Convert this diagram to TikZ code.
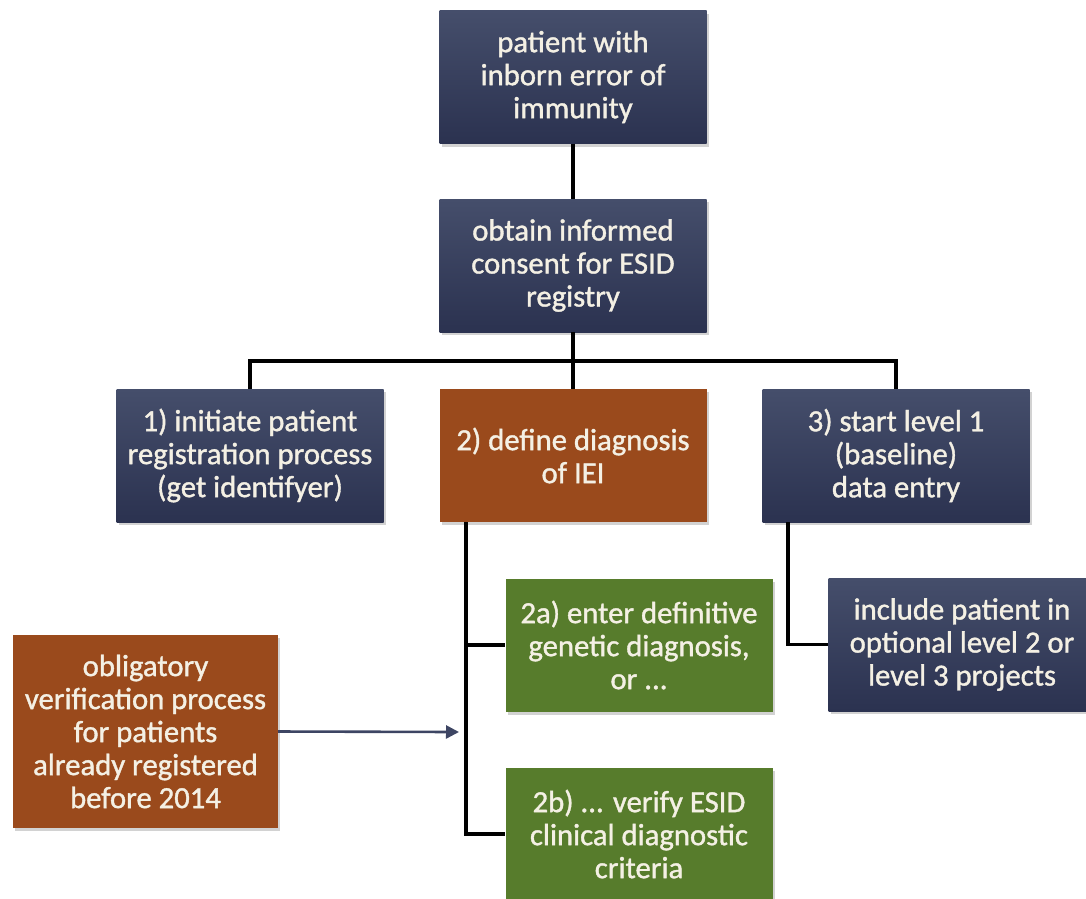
\documentclass[tikz,border=0pt]{standalone}
\usepackage{fontspec}
\setmainfont{Carlito}
\newfontfamily\boxfont{Carlito}[FakeBold=1.2]
\usetikzlibrary{shadows,arrows.meta}
\definecolor{navytop}{HTML}{454E6B}
\definecolor{navybot}{HTML}{2B3250}
\definecolor{rust}{HTML}{9A4A1C}
\definecolor{leaf}{HTML}{577C2C}
\definecolor{cream}{HTML}{F4F0E4}
\definecolor{arrowcol}{HTML}{3D4563}
\tikzset{
  box/.style={rectangle, inner sep=0pt, minimum width=267pt, minimum height=133pt,
    align=center, text=cream, font=\boxfont\fontsize{30.7}{33}\selectfont,
    drop shadow={opacity=0.35, shadow xshift=2pt, shadow yshift=-3pt}},
  navybox/.style={box, top color=navytop, bottom color=navybot},
  rustbox/.style={box, fill=rust},
  leafbox/.style={box, fill=leaf},
  link/.style={draw=black, line width=3.2pt},
  feed/.style={draw=arrowcol, line width=2.6pt, -{Triangle[length=13pt,width=13pt]}}
}
\begin{document}
\begin{tikzpicture}[x=1pt,y=-1pt]
\useasboundingbox (0,0) rectangle (1086,898);
\fill[white] (0,0) rectangle (1086,898);

\node[navybox] (top) at (573,77) {patient with\\inborn error of\\immunity};
\node[navybox] (consent) at (573,265.5) {obtain informed\\consent for ESID\\registry};
\node[navybox] (b1) at (250,455.5) {1) initiate patient\\registration process\\(get identifyer)};
\node[rustbox] (b2) at (573,455.5) {2) define diagnosis\\of IEI};
\node[navybox] (b3) at (896,455.5) {3) start level 1\\(baseline)\\data entry};
\node[leafbox] (a2) at (639,645) {2a) enter definitive\\genetic diagnosis,\\or ...};
\node[leafbox] (bb) at (639,834) {2b) ... verify ESID\\clinical diagnostic\\criteria};
\node[navybox] (incl) at (962,644.5) {include patient in\\optional level 2 or\\level 3 projects};
\node[rustbox, minimum width=265pt, minimum height=193pt] (obl) at (145.5,731.5)
  {obligatory\\verification process\\for patients\\already registered\\before 2014};

\coordinate (j) at (573,361);
\coordinate (s2) at (466,522);
\coordinate (s3) at (788,522);
\coordinate (tip) at (459,732);

\draw[link] (top.south) -- (consent.north);
\draw[link] (consent.south) -- (b2.north);
\draw[link] (b1.north) |- (j) -| (b3.north);
\draw[link] (s2) |- (a2.west);
\draw[link] (s2) |- (bb.west);
\draw[link] (s3) |- (incl.west);
\draw[feed] (obl.east) -- (tip);
\end{tikzpicture}
\end{document}
